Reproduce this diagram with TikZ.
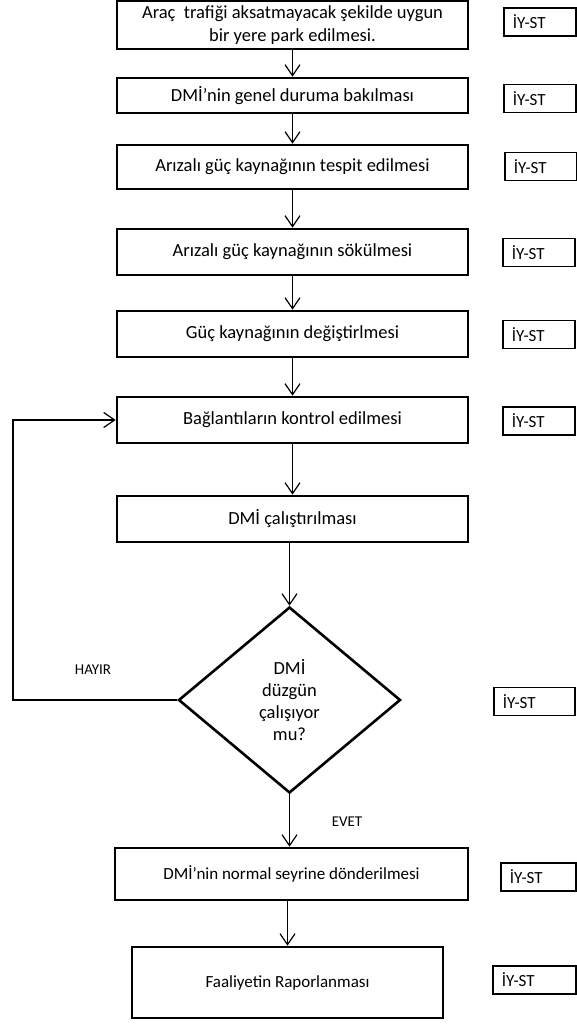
\documentclass[tikz,border=0pt]{standalone}
\usepackage{fontspec}
\setmainfont{Carlito}
\usetikzlibrary{shapes.geometric, arrows.meta}

\begin{document}
\begin{tikzpicture}[
    x=1pt, y=-1pt,
    adim/.style={rectangle, draw=black, line width=2.6pt,
      minimum width=351pt, minimum height=46pt, align=center,
      inner sep=0pt, font=\fontsize{18.5}{23}\selectfont},
    karar/.style={diamond, draw=black, line width=2.6pt,
      minimum width=222pt, minimum height=186pt, inner sep=0pt,
      align=center, font=\fontsize{18.5}{22}\selectfont},
    sorumlu/.style={rectangle, draw=black, line width=1.8pt,
      anchor=west, minimum height=28pt, inner xsep=9pt,
      text width=54pt, align=left, font=\fontsize{17}{20}\selectfont},
    etiket/.style={font=\fontsize{15}{18}\selectfont},
    ok/.style={-{Straight Barb[length=11pt, width=15pt]}, line width=1.2pt},
    cizgi/.style={line width=1.2pt}
  ]
    \useasboundingbox (0,0) rectangle (576,1025);

    % Adimlar
    \node[adim, minimum height=48pt] (trafik) at (292.5, 25)
      {Araç\ \ trafiği aksatmayacak şekilde uygun\\bir yere park edilmesi.};
    \node[adim, minimum height=35pt] (genel) at (292.5, 95.5)
      {DMİ'nin genel duruma bakılması};
    \node[adim, minimum height=44pt] (tespit) at (292.5, 167)
      {Arızalı güç kaynağının tespit edilmesi};
    \node[adim] (sokum) at (292.5, 252) {Arızalı güç kaynağının sökülmesi};
    \node[adim] (degisim) at (292.5, 334) {Güç kaynağının değiştirlmesi};
    \node[adim] (kontrol) at (292.5, 420) {Bağlantıların kontrol edilmesi};
    \node[adim] (calistir) at (292.5, 519) {DMİ çalıştırılması};
    \node[karar] (soru) at (289.5, 700) {DMİ\\düzgün\\çalışıyor\\mu?};
    \node[adim, minimum width=353pt, minimum height=52pt,
      font=\fontsize{17}{20}\selectfont] (normal) at (291.5, 874)
      {DMİ'nin normal seyrine dönderilmesi};
    \node[adim, minimum width=311pt, minimum height=71pt,
      font=\fontsize{17}{20}\selectfont] (rapor) at (287.5, 982.5)
      {Faaliyetin Raporlanması};

    % Sorumlular
    \node[sorumlu] (s1) at (503, 22) {İY-ST};
    \node[sorumlu] (s2) at (503, 98.5) {İY-ST};
    \node[sorumlu] (s3) at (504, 166.5) {İY-ST};
    \node[sorumlu] (s4) at (502, 252.5) {İY-ST};
    \node[sorumlu] (s5) at (502, 334.5) {İY-ST};
    \node[sorumlu] (s6) at (502, 421) {İY-ST};
    \node[sorumlu, text width=63pt] (s7) at (493, 701.5) {İY-ST};
    \node[sorumlu, text width=57pt] (s8) at (500, 877) {İY-ST};
    \node[sorumlu, text width=65pt] (s9) at (492, 980) {İY-ST};

    % Etiketler
    \node[etiket] (hayir) at (93, 670) {HAYIR};
    \node[etiket] (evet) at (347, 822) {EVET};

    % Baglantilar
    \draw[ok] (trafik.south) -- (genel.north);
    \draw[ok] (genel.south) -- (tespit.north);
    \draw[ok] (tespit.south) -- (sokum.north);
    \draw[ok] (sokum.south) -- (degisim.north);
    \draw[ok] (degisim.south) -- (kontrol.north);
    \draw[ok] (kontrol.south) -- (calistir.north);
    \draw[ok] (calistir.south -| soru.north) -- (soru.north);
    \draw[ok] (soru.south) -- (soru.south |- normal.north);
    \draw[ok] (rapor.north |- normal.south) -- (rapor.north);

    % Geri donus
    \coordinate (donus) at (13, 700);
    \draw[ok] (soru.west) -- (soru.west -| donus) |- (kontrol.west);
  \end{tikzpicture}
\end{document}
